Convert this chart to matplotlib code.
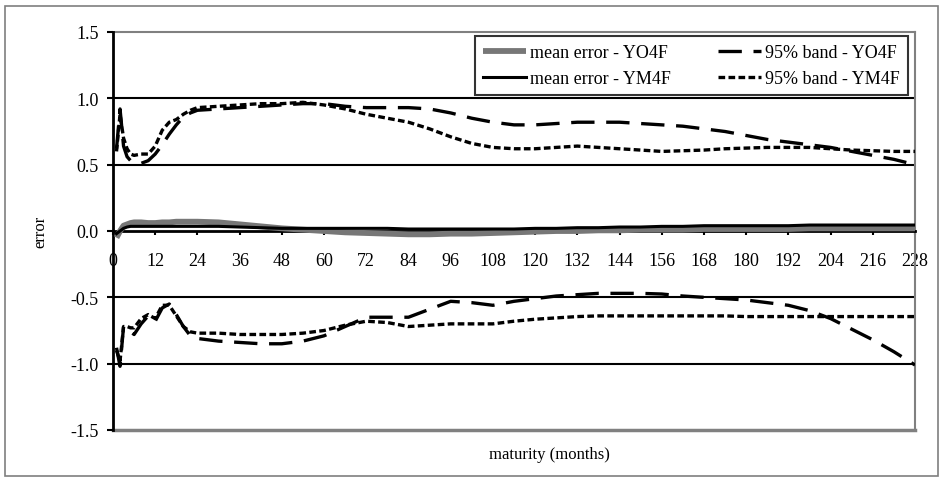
import matplotlib
matplotlib.use("Agg")
import matplotlib.pyplot as plt
from matplotlib.patches import Rectangle

plt.rcParams["font.family"] = ["Liberation Serif", "DejaVu Serif"]

# maturities (months)
maturity = [1, 2, 3, 4, 5, 6, 8, 10, 12, 14, 16, 18, 20, 22, 24, 30, 36, 42, 48,
            54, 60, 66, 72, 78, 84, 90, 96, 102, 108, 114, 120, 126, 132, 138,
            144, 150, 156, 162, 168, 174, 180, 186, 192, 198, 204, 210, 216,
            222, 228]

mean_yo4f = [-0.05, 0.00, 0.04, 0.05, 0.06, 0.065, 0.065, 0.06, 0.06, 0.065,
             0.065, 0.07, 0.07, 0.07, 0.07, 0.065, 0.05, 0.035, 0.02, 0.01,
             0.0, -0.01, -0.015, -0.02, -0.025, -0.025, -0.02, -0.02, -0.015,
             -0.01, -0.005, 0.0, 0.0, 0.005, 0.005, 0.01, 0.01, 0.01, 0.015,
             0.015, 0.015, 0.015, 0.015, 0.02, 0.02, 0.02, 0.02, 0.02, 0.02]

mean_ym4f = [-0.02, 0.0, 0.02, 0.03, 0.035, 0.035, 0.035, 0.035, 0.035, 0.035,
             0.035, 0.035, 0.035, 0.035, 0.035, 0.035, 0.03, 0.025, 0.02, 0.02,
             0.02, 0.02, 0.02, 0.02, 0.015, 0.015, 0.015, 0.015, 0.015, 0.015,
             0.02, 0.02, 0.025, 0.025, 0.03, 0.03, 0.035, 0.035, 0.04, 0.04,
             0.04, 0.04, 0.04, 0.045, 0.045, 0.045, 0.045, 0.045, 0.045]

band_hi_yo4f = [0.62, 0.92, 0.64, 0.56, 0.53, 0.52, 0.51, 0.53, 0.58, 0.65,
                0.73, 0.80, 0.86, 0.89, 0.91, 0.92, 0.93, 0.94, 0.95, 0.96,
                0.96, 0.94, 0.93, 0.93, 0.93, 0.92, 0.89, 0.85, 0.82, 0.80,
                0.80, 0.81, 0.82, 0.82, 0.82, 0.81, 0.80, 0.79, 0.77, 0.75,
                0.72, 0.69, 0.67, 0.65, 0.63, 0.60, 0.57, 0.54, 0.50]

band_lo_yo4f = [-0.88, -1.02, -0.72, -0.74, -0.76, -0.78, -0.70, -0.64, -0.68,
                -0.58, -0.55, -0.63, -0.72, -0.79, -0.81, -0.83, -0.84, -0.85,
                -0.85, -0.83, -0.79, -0.72, -0.65, -0.65, -0.65, -0.59, -0.53,
                -0.54, -0.56, -0.53, -0.51, -0.49, -0.48, -0.47, -0.47, -0.47,
                -0.475, -0.49, -0.50, -0.51, -0.52, -0.54, -0.56, -0.60, -0.66,
                -0.74, -0.82, -0.91, -1.01]

band_hi_ym4f = [0.60, 0.88, 0.70, 0.62, 0.58, 0.57, 0.58, 0.58, 0.64, 0.76,
                0.82, 0.84, 0.88, 0.91, 0.93, 0.94, 0.95, 0.96, 0.96, 0.97,
                0.95, 0.92, 0.88, 0.85, 0.82, 0.77, 0.71, 0.66, 0.63, 0.62,
                0.62, 0.63, 0.64, 0.63, 0.62, 0.61, 0.60, 0.605, 0.61, 0.62,
                0.625, 0.63, 0.63, 0.63, 0.62, 0.61, 0.605, 0.60, 0.60]

band_lo_ym4f = [-0.90, -0.98, -0.72, -0.72, -0.73, -0.73, -0.66, -0.63, -0.66,
                -0.56, -0.56, -0.64, -0.72, -0.76, -0.77, -0.77, -0.78, -0.78,
                -0.78, -0.77, -0.75, -0.71, -0.68, -0.69, -0.72, -0.71, -0.70,
                -0.70, -0.70, -0.68, -0.665, -0.655, -0.645, -0.64, -0.64,
                -0.64, -0.64, -0.64, -0.64, -0.64, -0.645, -0.645, -0.645,
                -0.645, -0.645, -0.645, -0.645, -0.645, -0.645]

x_ticks = list(range(0, 229, 12))
y_ticks = [-1.5, -1.0, -0.5, 0.0, 0.5, 1.0, 1.5]

W, H = 944, 481
fig = plt.figure(figsize=(W / 100, H / 100), dpi=100)

# chart area frame
fig.patches.append(Rectangle((5 / W, 4 / H), 933 / W, 470 / H,
                             transform=fig.transFigure, fill=False,
                             edgecolor="#7f7f7f", linewidth=1.2))

L, R, T, B = 113, 915, 33, 431
ax = fig.add_axes([L / W, (H - B) / H, (R - L) / W, (B - T) / H])
ax.set_xlim(0, 228)
ax.set_ylim(-1.5, 1.5)

# horizontal grid lines
for g in [-1.0, -0.5, 0.5, 1.0]:
    ax.axhline(g, color="black", linewidth=1.5, zorder=1)
ax.axhline(1.5, color="#808080", linewidth=1.5, zorder=1, clip_on=False)
ax.axhline(-1.5, color="#808080", linewidth=2.5, zorder=1, clip_on=False)

ax.plot(maturity, mean_yo4f, color="#777777", linewidth=4.2, solid_capstyle="butt",
        label="mean error - YO4F", zorder=3)
ax.plot(maturity, mean_ym4f, color="black", linewidth=2.2,
        label="mean error - YM4F", zorder=4)
ax.plot(maturity, band_hi_yo4f, color="black", linewidth=2.4,
        dashes=(7, 3.5), label="95% band - YO4F", zorder=3)
ax.plot(maturity, band_lo_yo4f, color="black", linewidth=2.4,
        dashes=(7, 3.5), zorder=3)
ax.plot(maturity, band_hi_ym4f, color="black", linewidth=2.4,
        dashes=(2, 1), label="95% band - YM4F", zorder=3)
ax.plot(maturity, band_lo_ym4f, color="black", linewidth=2.4,
        dashes=(2, 1), zorder=3)

# spines: x axis crosses at zero
ax.spines["bottom"].set_position(("data", 0))
ax.spines["bottom"].set_linewidth(2.0)
ax.spines["left"].set_linewidth(2.0)
ax.spines["right"].set_color("#808080")
ax.spines["right"].set_linewidth(1.5)
ax.spines["top"].set_visible(False)

ax.set_xticks(x_ticks)
ax.set_xticklabels([str(t) for t in x_ticks])
ax.set_yticks(y_ticks)
ax.set_yticklabels([f"{t:.1f}" for t in y_ticks])
ax.tick_params(axis="x", direction="out", length=3, width=1.5, pad=12,
               labelsize=13)
ax.tick_params(axis="y", direction="out", length=4.5, width=1.5, pad=6,
               labelsize=13)

handles, labels = ax.get_legend_handles_labels()
leg = ax.legend(handles, labels,
                ncol=2, loc="upper left",
                bbox_to_anchor=(475 / W, (H - 37) / H),
                bbox_transform=fig.transFigure,
                frameon=True, fancybox=False, edgecolor="black",
                fontsize=13, handlelength=2.4, handletextpad=0.2,
                columnspacing=2.6, borderpad=0.45, labelspacing=0.5,
                borderaxespad=0)
leg.get_frame().set_linewidth(1.5)

fig.text(40 / W, (H - 232) / H, "error", rotation=90, ha="center",
         va="center", fontsize=12)
fig.text(549 / W, (H - 455) / H, "maturity (months)", ha="center",
         va="center", fontsize=12)

fig.savefig("out.png", dpi=100)
